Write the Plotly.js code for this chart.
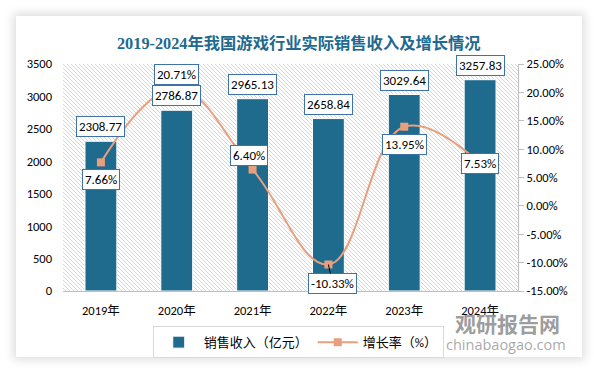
<!DOCTYPE html>
<html><head><meta charset="utf-8">
<script src="https://cdn.plot.ly/plotly-3.0.1.min.js"></script>
<style>
html,body{margin:0;padding:0;background:#fff;}
#card{position:absolute;left:16px;top:16px;width:566px;height:341px;background:#fff;box-shadow:0 0 9px 3px rgba(0,0,0,0.13);}
#chart{position:absolute;left:0;top:0;width:594px;height:371px;}
</style></head>
<body>
<div id="card"></div>
<div id="chart"></div>
<script>
const years = ["2019年","2020年","2021年","2022年","2023年","2024年"];
const revenue = [2308.77, 2786.87, 2965.13, 2658.84, 3029.64, 3257.83];
const growth = [7.66, 20.71, 6.40, -10.33, 13.95, 7.53];
const leftTicks = [0,500,1000,1500,2000,2500,3000,3500];
const rightTicks = [-15,-10,-5,0,5,10,15,20,25];

const barColor = '#1f6b8e';
const lineColor = '#e99f7d';
const boxColor = '#3f73a8';
const txtFont = 'Carlito, "Open Sans", "Noto Sans CJK SC", sans-serif';

// label offsets (style only)
const pctShift = [[0,-17],[0,14],[-4,14],[0,-18],[0,-18],[0,0]];

const hatch = '<svg xmlns="http://www.w3.org/2000/svg" width="455" height="227">' +
 '<defs><pattern id="p" patternUnits="userSpaceOnUse" width="4" height="4">' +
 '<path d="M-1,-1L5,5M3,-1L5,1M-1,3L1,5" stroke="#cdcdcd" stroke-width="0.8"/></pattern></defs>' +
 '<rect width="455" height="227" fill="#fff"/><rect width="455" height="227" fill="url(#p)"/></svg>';

const annotations = [];
annotations.push({xref:'paper', yref:'paper', x:0.978, y:-0.143, xanchor:'center', yanchor:'middle',
  text:'<b>观研报告网</b>', showarrow:false,
  font:{family:'"Noto Sans CJK SC", sans-serif', size:21, color:'rgba(130,130,130,0.8)'}});
annotations.push({xref:'paper', yref:'paper', x:0.974, y:-0.236, xanchor:'center', yanchor:'middle',
  text:'chinabaogao.com', showarrow:false,
  font:{family:'"Open Sans", sans-serif', size:14.5, color:'rgba(140,140,140,0.75)'}});
years.forEach((y,i)=>{
  annotations.push({x:y, y:revenue[i], xref:'x', yref:'y', text:revenue[i].toFixed(2),
    showarrow:false, yanchor:'bottom', yshift:4, bgcolor:'#fff', bordercolor:boxColor,
    borderwidth:1, borderpad:2, font:{family:txtFont,size:13,color:'#000'}});
});
years.forEach((y,i)=>{
  const a = {x:y, y:growth[i], xref:'x', yref:'y2', text:growth[i].toFixed(2)+'%',
    bgcolor:'#fff', bordercolor:boxColor, borderwidth:1, borderpad:2,
    font:{family:txtFont,size:13,color:'#000'}};
  if (i===3) {
    Object.assign(a,{showarrow:true, arrowhead:0, arrowwidth:1, arrowcolor:'#000', ax:4, ay:19, standoff:0});
  } else {
    Object.assign(a,{showarrow:false, xshift:pctShift[i][0], yshift:pctShift[i][1]});
  }
  annotations.push(a);
});

const data = [
  {type:'bar', x:years, y:revenue, name:'销售收入（亿元）', width:0.42,
   marker:{color:barColor, line:{color:'#ffffff', width:1}}, hoverinfo:'skip'},
  {type:'scatter', mode:'lines+markers', x:years, y:growth, yaxis:'y2', name:'增长率（%）',
   line:{color:lineColor, width:2, shape:'spline', smoothing:1.15},
   marker:{symbol:'square', size:8, color:lineColor}, cliponaxis:false, hoverinfo:'skip'}
];

const layout = {
  width:594, height:371,
  margin:{l:63, r:76, t:64, b:80},
  paper_bgcolor:'rgba(0,0,0,0)', plot_bgcolor:'rgba(0,0,0,0)',
  title:{text:'<b>2019-2024年我国游戏行业实际销售收入及增长情况</b>', x:0.503, xanchor:'center', y:0.884, yanchor:'middle',
    font:{family:'"Liberation Serif", "Noto Sans CJK SC", serif', size:16.3, color:'#21698f'}},
  xaxis:{type:'category', showline:true, linecolor:'#bfbfbf', linewidth:1, ticks:'', showgrid:false,
    tickfont:{family:txtFont, size:12.5, color:'#000'}, ticklabelstandoff:8},
  yaxis:{range:[0,3500], tickvals:leftTicks, ticktext:leftTicks.map(String), showgrid:false, zeroline:false,
    showline:false, ticks:'', tickfont:{family:txtFont, size:12.5, color:'#000'}, ticklabelstandoff:10},
  yaxis2:{range:[-15,25], tickvals:rightTicks, ticktext:rightTicks.map(v=>v.toFixed(2)+'%'), overlaying:'y', side:'right',
    showgrid:false, zeroline:false, showline:true, linecolor:'#bfbfbf', linewidth:1, ticks:'outside', ticklen:5,
    tickcolor:'#bfbfbf', tickfont:{family:txtFont, size:12.5, color:'#000'}},
  legend:{orientation:'h', x:0.517, xanchor:'center', y:-0.155, yanchor:'top',
    bordercolor:'#d9d9d9', borderwidth:1, bgcolor:'rgba(255,255,255,0)',
    font:{family:txtFont, size:13, color:'#000'}, itemwidth:40},
  showlegend:true,
  annotations:annotations,
  images:[{source:'data:image/svg+xml;charset=utf-8,'+encodeURIComponent(hatch), xref:'paper', yref:'paper',
    x:0, y:1, sizex:1, sizey:1, sizing:'stretch', xanchor:'left', yanchor:'top', layer:'below'}]
};
Plotly.newPlot('chart', data, layout, {displayModeBar:false, staticPlot:true});
</script>
</body></html>
